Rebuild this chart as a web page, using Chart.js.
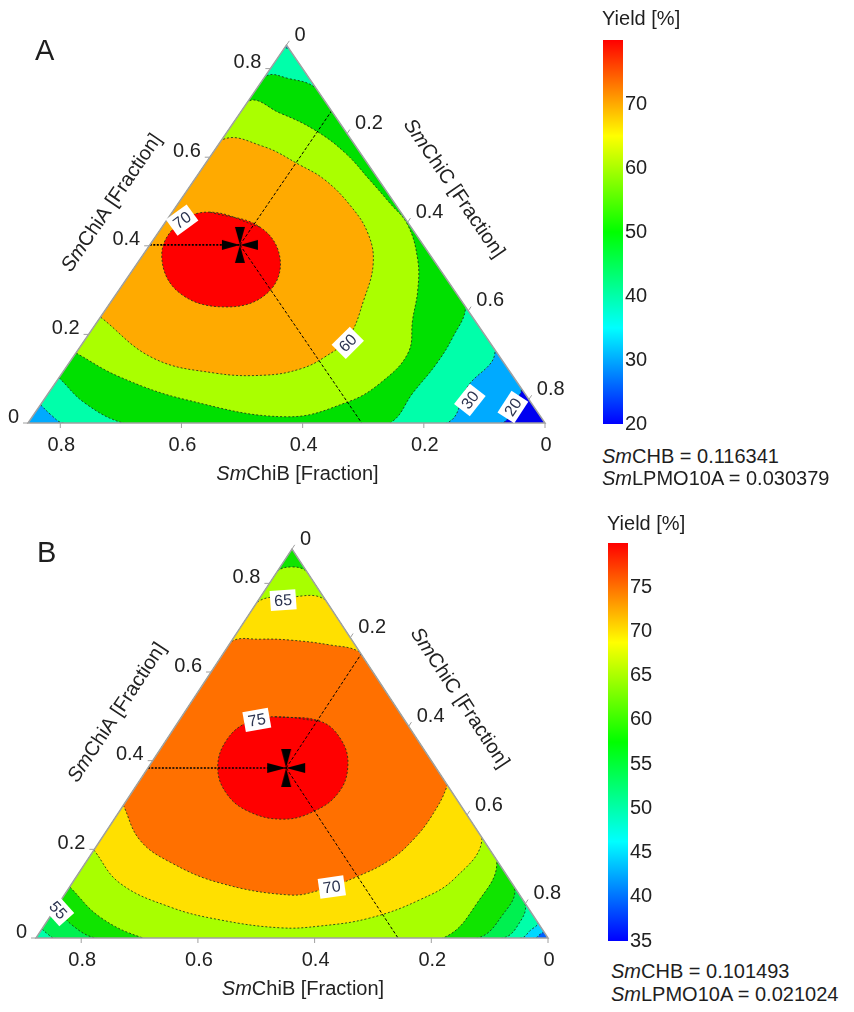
<!DOCTYPE html>
<html>
<head>
<meta charset="utf-8">
<script src="https://cdn.jsdelivr.net/npm/chart.js@4.4.0/dist/chart.umd.min.js"></script>
<style>
  body { margin: 0; background: #fff; }
  #page { position: relative; width: 854px; height: 1012px; font-family: Arial, "Liberation Sans", sans-serif; color: #1e1e1e; }
  #page canvas, .txt { position: absolute; }
  .txt { font-size: 20px; line-height: 20px; white-space: nowrap; }
  .letter { font-size: 29px; line-height: 29px; }
</style>
</head>
<body>
<div id="page">
  <canvas id="triA" width="600" height="500" style="left:0px;top:0px"></canvas>
  <canvas id="barA" width="72" height="408" style="left:603px;top:28px"></canvas>
  <canvas id="triB" width="600" height="512" style="left:0px;top:500px"></canvas>
  <canvas id="barB" width="72" height="422" style="left:608px;top:531px"></canvas>
  <div class="txt letter" style="left:35px;top:36px">A</div>
  <div class="txt letter" style="left:37px;top:538px">B</div>
  <div class="txt" style="left:602px;top:8px">Yield [%]</div>
  <div class="txt" style="left:607px;top:513px">Yield [%]</div>
  <div class="txt" id="noteA1" style="left:602px;top:446px"></div>
  <div class="txt" id="noteA2" style="left:602px;top:468px"></div>
  <div class="txt" id="noteB1" style="left:611px;top:961px"></div>
  <div class="txt" id="noteB2" style="left:611px;top:984px"></div>
</div>
<script>
// fixed enzymes of each panel
const chbA = 0.116341, lpmoA = 0.030379;
const chbB = 0.101493, lpmoB = 0.021024;
const sumA = 1 - chbA - lpmoA;   // what is left for SmChiA + SmChiB + SmChiC
const sumB = 1 - chbB - lpmoB;

const fractionTicks = [0, 0.2, 0.4, 0.6, 0.8];
const barTicksA = [20, 30, 40, 50, 60, 70];
const barTicksB = [35, 40, 45, 50, 55, 60, 65, 70, 75];
const rangeA = [20, 80];
const rangeB = [35, 80];

// optimum, [SmChiA, SmChiB]
const optimumA = [0.402, 0.3025];
const optimumB = [0.3835, 0.257];

// contour pieces, every point is [SmChiA, SmChiB]
// panel A
const a20BR = [[0, 0.071], [0.045, 0.030], [0.079, 0]];
const a30BL = [[0.041, 0.812], [0.018, 0.806], [0, 0.796]];
const a30BR = [[0, 0.162], [0.081, 0.088], [0.165, 0]];
const a30T = [[0.842, 0], [0.846, 0.003], [0.847, 0.007]];
const a40BL = [[0.102, 0.751], [0.045, 0.737], [0, 0.697]];
const a40BR = [[0, 0.256], [0.068, 0.184], [0.135, 0.111], [0.194, 0.055], [0.262, 0]];
const a40T = [[0.756, 0], [0.777, 0.033], [0.781, 0.072]];
const a50 = [[0.158, 0.695], [0.104, 0.650], [0.052, 0.565], [0.014, 0.419], [0.047, 0.303], [0.090, 0.227],
  [0.158, 0.147], [0.233, 0.102], [0.300, 0.060], [0.368, 0.026], [0.447, 0.003], [0.497, 0.008],
  [0.549, 0.015], [0.610, 0.025], [0.661, 0.049], [0.700, 0.088], [0.725, 0.129]];
const a60 = [[0.239, 0.614], [0.147, 0.574], [0.113, 0.490], [0.108, 0.408], [0.122, 0.343], [0.149, 0.289],
  [0.192, 0.229], [0.278, 0.160], [0.361, 0.103], [0.429, 0.078], [0.492, 0.076], [0.549, 0.089],
  [0.582, 0.113], [0.625, 0.154], [0.639, 0.214]];
const a70 = [[0.476, 0.315], [0.442, 0.249], [0.368, 0.253], [0.293, 0.312], [0.262, 0.394], [0.293, 0.456],
  [0.375, 0.445], [0.447, 0.384]];
// panel B
const b40BR = [[0, 0.022], [0.008, 0.010], [0.016, 0]];
const b45BR = [[0, 0.046], [0.017, 0.022], [0.036, 0]];
const b50BL = [[0.020, 0.857], [0.009, 0.853], [0, 0.847]];
const b50BR = [[0, 0.077], [0.029, 0.037], [0.079, 0]];
const b55BL = [[0.070, 0.808], [0.029, 0.801], [0, 0.776]];
const b55BR = [[0, 0.120], [0.050, 0.054], [0.115, 0]];
const b60BL = [[0.115, 0.762], [0.047, 0.744], [0, 0.694]];
const b60BR = [[0, 0.180], [0.079, 0.082], [0.176, 0]];
const b60T = [[0.826, 0], [0.837, 0.020], [0.826, 0.052]];
const b65Low = [[0.199, 0.679], [0.124, 0.672], [0.070, 0.613], [0.041, 0.542], [0.023, 0.448], [0.027, 0.377],
  [0.045, 0.283], [0.086, 0.177], [0.135, 0.092], [0.226, 0]];
const b65Up = [[0.762, 0], [0.769, 0.058], [0.756, 0.122]];
const b70Low = [[0.300, 0.578], [0.221, 0.589], [0.171, 0.562], [0.124, 0.500], [0.097, 0.394], [0.108, 0.337],
  [0.138, 0.259], [0.176, 0.183], [0.221, 0.121], [0.277, 0.060], [0.345, 0]];
const b70Up = [[0.645, 0], [0.661, 0.043], [0.672, 0.106], [0.674, 0.156], [0.668, 0.210]];
const b75 = [[0.499, 0.219], [0.489, 0.146], [0.447, 0.131], [0.388, 0.149], [0.327, 0.196], [0.284, 0.262],
  [0.268, 0.322], [0.286, 0.371], [0.327, 0.388], [0.386, 0.373], [0.447, 0.327], [0.487, 0.271]];

// region above each level: ring = corner cuts [SmChiB corner, SmChiC corner, SmChiA corner]
const zonesA = [
  { level: 20, ring: [null, a20BR, null] },
  { level: 30, ring: [a30BL, a30BR, a30T] },
  { level: 40, ring: [a40BL, a40BR, a40T] },
  { level: 50, open: a50 },
  { level: 60, open: a60 },
  { level: 70, closed: a70 },
];
const zonesB = [
  { level: 40, ring: [null, b40BR, null] },
  { level: 45, ring: [null, b45BR, null] },
  { level: 50, ring: [b50BL, b50BR, null] },
  { level: 55, ring: [b55BL, b55BR, null] },
  { level: 60, ring: [b60BL, b60BR, b60T] },
  { level: 65, band: [b65Low, b65Up] },
  { level: 70, band: [b70Low, b70Up] },
  { level: 75, closed: b75 },
];

// contour value tags [value, SmChiA, SmChiB]
const tagsA = [[70, 0.458, 0.370], [60, 0.181, 0.235], [30, 0.052, 0.098], [20, 0.036, 0.035]];
const tagsB = [[65, 0.762, 0.073], [75, 0.492, 0.253], [70, 0.115, 0.313], [55, 0.063, 0.808]];

// styles
const FONT = 'Arial, "Liberation Sans", sans-serif';
const fillA = ['#0000f0', '#00aaff', '#00ffaa', '#00e000', '#aaff00', '#ffaa00', '#ff0000'];
const fillB = ['#0062ff', '#00d8ff', '#00ffaa', '#00f050', '#10e400', '#a8ff00', '#ffe000', '#ff7000', '#ff0000'];
const tiltA = [-36, -45, -52, -57];
const tiltB = [-4, -10, -8, 48];
const contourLine = 'rgba(25,55,25,0.85)';

document.getElementById('noteA1').innerHTML = '<i>Sm</i>CHB = ' + chbA;
document.getElementById('noteA2').innerHTML = '<i>Sm</i>LPMO10A = ' + lpmoA;
document.getElementById('noteB1').innerHTML = '<i>Sm</i>CHB = ' + chbB;
document.getElementById('noteB2').innerHTML = '<i>Sm</i>LPMO10A = ' + lpmoB;

const toXY = ([a, b]) => ({ x: b + a / 2, y: a });

// points outside the triangle used to close the regions (clipped away later)
function outside(S) {
  const m = 0.1;
  return {
    bottom: [-m, S / 2 + m / 2], right: [S / 2 + m / 2, -m], left: [S / 2 + m / 2, S / 2 + m / 2],
    cornerB: [-m, S + 2 * m], cornerC: [-m, -m], cornerA: [S + 2 * m, -m]
  };
}

function zoneRing(z, S) {
  const o = outside(S);
  if (z.closed) return [...z.closed, z.closed[0], z.closed[1]];
  if (z.open) return [...z.open, o.left];
  if (z.band) return [...z.band[0], o.right, ...z.band[1], o.left];
  const [bl, br, top] = z.ring;
  return [...(bl || [o.cornerB]), o.bottom, ...(br || [o.cornerC]), o.right, ...(top || [o.cornerA]), o.left];
}

function starMark(len) {
  const c = document.createElement('canvas');
  c.width = 46; c.height = 46;
  const g = c.getContext('2d');
  g.translate(23, 23);
  g.fillStyle = '#000';
  for (let k = 0; k < 4; k++) {
    g.beginPath();
    g.moveTo(0, 0); g.lineTo(-5, -len); g.lineTo(5, -len); g.closePath();
    g.fill();
    g.rotate(Math.PI / 2);
  }
  return c;
}

function ternarySets(zones, colors, S, opt, armLen) {
  const sets = [];
  sets.push({ data: [toXY(opt)], pointStyle: starMark(armLen), pointRadius: 10, showLine: false });
  const dashed = (pts, w, dash) => ({ data: pts.map(toXY), showLine: true, borderColor: '#000', borderWidth: w,
    borderDash: dash, pointRadius: 0, fill: false, tension: 0 });
  sets.push(dashed([[opt[0], S - opt[0]], [opt[0], opt[1]]], 1.6, [2, 1.5]));
  sets.push(dashed([[opt[0], opt[1]], [opt[0] + opt[1], 0]], 1, [3, 2]));
  sets.push(dashed([[opt[0], opt[1]], [0, opt[1]]], 1, [3, 2]));
  for (let i = zones.length - 1; i >= 0; i--) {
    sets.push({ data: zoneRing(zones[i], S).map(toXY), showLine: true, fill: 'shape',
      backgroundColor: colors[i + 1], borderColor: contourLine, borderWidth: 1, borderDash: [2, 2],
      pointRadius: 0, tension: 0.4 });
  }
  const o = outside(S);
  sets.push({ data: [o.cornerB, o.cornerC, o.cornerA].map(toXY), showLine: true, fill: 'shape',
    backgroundColor: colors[0], borderWidth: 0, borderColor: 'rgba(0,0,0,0)', pointRadius: 0, tension: 0 });
  return sets;
}

function ternaryDecor(S, tags, tilts, titleOut) {
  const pix = (chart, a, b) => ({ x: chart.scales.x.getPixelForValue(b + a / 2), y: chart.scales.y.getPixelForValue(a) });
  const fmt = (v) => (v === 0 ? '0' : v.toFixed(1));
  function title(ctx, x, y, ang, rest) {
    ctx.save();
    ctx.translate(x, y);
    ctx.rotate(ang);
    ctx.textBaseline = 'middle';
    ctx.textAlign = 'left';
    ctx.fillStyle = '#222';
    ctx.font = 'italic 20px ' + FONT;
    const w1 = ctx.measureText('Sm').width;
    ctx.font = '20px ' + FONT;
    const w2 = ctx.measureText(rest).width;
    const x0 = -(w1 + w2) / 2;
    ctx.font = 'italic 20px ' + FONT;
    ctx.fillText('Sm', x0, 0);
    ctx.font = '20px ' + FONT;
    ctx.fillText(rest, x0 + w1, 0);
    ctx.restore();
  }
  return {
    id: 'ternaryDecor',
    beforeDraw(chart) {
      const ctx = chart.ctx;
      const A = pix(chart, S, 0), B = pix(chart, 0, S), C = pix(chart, 0, 0);
      ctx.save();
      ctx.beginPath();
      ctx.moveTo(B.x, B.y); ctx.lineTo(C.x, C.y); ctx.lineTo(A.x, A.y);
      ctx.closePath();
      ctx.clip();
    },
    afterDatasetsDraw(chart) {
      const ctx = chart.ctx;
      ctx.restore();
      const A = pix(chart, S, 0), B = pix(chart, 0, S), C = pix(chart, 0, 0);
      ctx.save();
      ctx.setLineDash([]);
      ctx.strokeStyle = '#a0a0a0';
      ctx.lineWidth = 1.5;
      ctx.beginPath();
      ctx.moveTo(B.x, B.y); ctx.lineTo(C.x, C.y); ctx.lineTo(A.x, A.y);
      ctx.closePath();
      ctx.stroke();

      const ar = Math.atan2(A.y - B.y, A.x - B.x);
      const ac = Math.atan2(C.y - A.y, C.x - A.x);
      const line = (x1, y1, x2, y2) => { ctx.beginPath(); ctx.moveTo(x1, y1); ctx.lineTo(x2, y2); ctx.stroke(); };
      ctx.lineWidth = 1;
      ctx.fillStyle = '#222';
      ctx.font = '20px ' + FONT;
      ctx.textBaseline = 'middle';
      fractionTicks.forEach((v) => {
        let q = pix(chart, 0, v);            // SmChiB, bottom
        line(q.x, q.y, q.x, q.y + 5);
        ctx.textAlign = 'center';
        ctx.fillText(fmt(v), q.x + 1, q.y + 22);
        q = pix(chart, v, S - v);            // SmChiA, left side
        line(q.x, q.y, q.x - 5, q.y);
        ctx.textAlign = 'right';
        ctx.fillText(fmt(v), q.x - 9, q.y - 6);
        q = pix(chart, S - v, 0);            // SmChiC, right side
        line(q.x, q.y, q.x + 5 * Math.cos(ar), q.y + 5 * Math.sin(ar));
        ctx.textAlign = 'left';
        ctx.fillText(fmt(v), q.x + 8, q.y - 10);
      });

      const mid = pix(chart, S / 2, S / 2);
      title(ctx, mid.x + titleOut * Math.sin(ar), mid.y - titleOut * Math.cos(ar), ar, 'ChiA [Fraction]');
      const t = 0.465;
      const rx = A.x + t * (C.x - A.x), ry = A.y + t * (C.y - A.y);
      title(ctx, rx + (titleOut + 2) * Math.sin(ac), ry - (titleOut + 2) * Math.cos(ac), ac, 'ChiC [Fraction]');
      title(ctx, (B.x + C.x) / 2 + 11, B.y + 51, 0, 'ChiB [Fraction]');

      ctx.font = '16px ' + FONT;
      tags.forEach(([val, a, b], i) => {
        const q = pix(chart, a, b);
        const txt = String(val);
        const w = ctx.measureText(txt).width;
        ctx.save();
        ctx.translate(q.x, q.y);
        ctx.rotate(tilts[i] * Math.PI / 180);
        ctx.fillStyle = '#fff';
        ctx.fillRect(-w / 2 - 4, -10, w + 8, 20);
        ctx.fillStyle = '#2c3450';
        ctx.textAlign = 'center';
        ctx.fillText(txt, 0, 1);
        ctx.restore();
      });
      ctx.restore();
    }
  };
}

function ternaryChart(id, zones, colors, S, opt, tags, tilts, padding, titleOut, armLen) {
  return new Chart(document.getElementById(id), {
    type: 'scatter',
    data: { datasets: ternarySets(zones, colors, S, opt, armLen) },
    options: {
      responsive: false,
      animation: false,
      events: [],
      layout: { padding },
      elements: { line: { capBezierPoints: false } },
      scales: {
        x: { type: 'linear', reverse: true, min: 0, max: S, display: false },
        y: { type: 'linear', min: 0, max: S, display: false }
      },
      plugins: { legend: { display: false }, tooltip: { enabled: false } }
    },
    plugins: [ternaryDecor(S, tags, tilts, titleOut)]
  });
}

function colorBar(id, range, ticks) {
  return new Chart(document.getElementById(id), {
    type: 'bar',
    data: {
      labels: [''],
      datasets: [{
        data: [range],
        borderWidth: 0,
        barPercentage: 1,
        categoryPercentage: 1,
        backgroundColor: (c) => {
          const a = c.chart.chartArea;
          if (!a) return '#888';
          const g = c.chart.ctx.createLinearGradient(0, a.bottom, 0, a.top);
          for (let i = 0; i <= 12; i++) g.addColorStop(i / 12, 'hsl(' + (240 - 20 * i) + ',100%,50%)');
          return g;
        }
      }]
    },
    options: {
      responsive: false,
      animation: false,
      events: [],
      layout: { padding: { top: 12, bottom: 12, left: 0, right: 0 } },
      scales: {
        x: { display: false },
        y: {
          position: 'right', min: range[0], max: range[1],
          grid: { display: false, drawTicks: false }, border: { display: false },
          afterBuildTicks: (ax) => { ax.ticks = ticks.map((v) => ({ value: v })); },
          afterFit: (ax) => { ax.width = 52; ax.paddingTop = 0; ax.paddingBottom = 0; },
          ticks: { color: '#222', font: { size: 20, family: FONT }, padding: 2 }
        }
      },
      plugins: { legend: { display: false }, tooltip: { enabled: false } }
    }
  });
}

ternaryChart('triA', zonesA, fillA, sumA, optimumA, tagsA, tiltA, { left: 28, right: 55, top: 45, bottom: 77 }, 55, 18);
ternaryChart('triB', zonesB, fillB, sumB, optimumB, tagsB, tiltB, { left: 36, right: 52, top: 49, bottom: 74 }, 56, 19);
colorBar('barA', rangeA, barTicksA);
colorBar('barB', rangeB, barTicksB);
</script>
</body>
</html>
